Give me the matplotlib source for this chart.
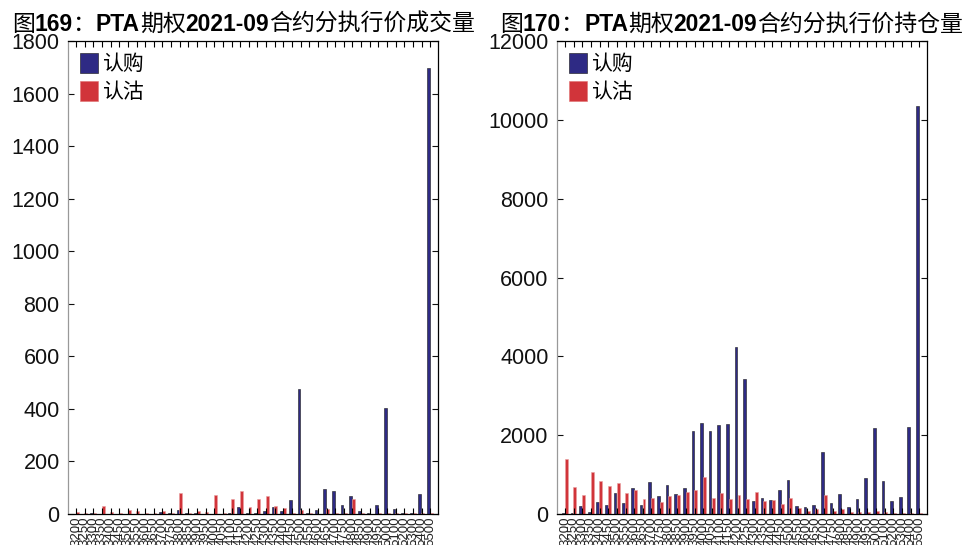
import matplotlib
matplotlib.use("Agg")
import matplotlib.pyplot as plt
import numpy as np

# Données : prix d'exercice et volumes / positions
strikes = ['3200', '3250', '3300', '3350', '3400', '3450', '3500', '3550', '3600', '3650',
           '3700', '3750', '3800', '3850', '3900', '3950', '4000', '4050', '4100', '4150',
           '4200', '4250', '4300', '4350', '4400', '4450', '4500', '4550', '4600', '4650',
           '4700', '4750', '4800', '4850', '4900', '4950', '5000', '5100', '5200', '5300',
           '5400', '5500']

vol_call = [0, 0, 2, 0, 0, 0, 0, 0, 0, 0, 8, 5, 14, 3, 2, 0, 0, 0, 4, 28,
            3, 2, 10, 28, 10, 52, 475, 5, 15, 95, 86, 33, 70, 10, 5, 33, 403, 18, 4, 4,
            77, 1697]
vol_put = [9, 3, 3, 30, 8, 2, 15, 13, 3, 3, 10, 2, 80, 5, 13, 6, 71, 5, 57, 86,
           25, 56, 68, 30, 24, 4, 15, 2, 0, 18, 3, 2, 56, 2, 0, 2, 2, 3, 2, 2,
           2, 3]

oi_call = [20, 35, 211, 60, 313, 220, 524, 279, 660, 228, 812, 448, 744, 516, 660, 2114,
           2300, 2114, 2258, 2283, 4236, 3425, 321, 414, 364, 609, 870, 211, 178, 237,
           1581, 271, 499, 169, 380, 921, 2173, 845, 321, 423, 2198, 10350]
oi_put = [1404, 685, 490, 1065, 845, 702, 778, 541, 617, 372, 414, 304, 457, 482, 550, 617,
          939, 398, 524, 372, 478, 380, 558, 338, 347, 262, 414, 144, 76, 135,
          490, 85, 118, 51, 42, 59, 85, 59, 25, 25, 25, 34]

labels = ['认购', '认沽']
c_call = '#2E2A84'
c_put = '#D1343A'

fam = ['Liberation Sans', 'Noto Sans CJK SC', 'DejaVu Sans']
plt.rcParams['font.family'] = fam

fig = plt.figure(figsize=(9.64, 5.45), dpi=100)
ax1 = fig.add_axes([68/964, 31/545, 370/964, 473/545])
ax2 = fig.add_axes([557/964, 31/545, 370/964, 473/545])

x = np.arange(len(strikes))


def panneau(ax, calls, puts, ymax, ystep):
    ax.bar(x - 0.36, calls, width=0.31, align='edge', color=c_call,
           edgecolor='#1a1a1a', linewidth=0.4, label=labels[0])
    ax.bar(x - 0.03, puts, width=0.34, align='edge', color=c_put,
           edgecolor='#E9A0A0', linewidth=0.4, label=labels[1])
    ax.set_xlim(-0.93, 41.9)
    ax.set_ylim(0, ymax)
    ax.set_xticks(x)
    ax.set_xticklabels(strikes, rotation=90, fontsize=9.5, color='#222222')
    ax.set_yticks(np.arange(0, ymax + 1, ystep))
    ax.tick_params(axis='y', labelsize=15.5, direction='in', length=4, pad=6,
                   right=True, colors='#111111')
    ax.tick_params(axis='x', direction='in', length=4, pad=2, top=True)
    for s in ['top', 'right', 'bottom']:
        ax.spines[s].set_color('black')
        ax.spines[s].set_linewidth(0.9)
    ax.spines['left'].set_color('#999999')
    ax.spines['left'].set_linewidth(0.9)
    leg = ax.legend(loc='upper left', bbox_to_anchor=(12/370, 1 - 12/473), frameon=False,
                    fontsize=15, handlelength=0.85, handleheight=1.1, handletextpad=0.2,
                    labelspacing=0.3, borderpad=0, borderaxespad=0,
                    prop={'family': ['Noto Sans CJK SC'], 'size': 15})
    leg.legend_handles[0].set_edgecolor('#111111')
    leg.legend_handles[1].set_edgecolor('#E07070')


panneau(ax1, vol_call, vol_put, 1800, 200)
panneau(ax2, oi_call, oi_put, 12000, 2000)


# Titres : parties latines en gras, chinois en normal
def titre(x0, y0, parts, size=16.5):
    renderer = fig.canvas.get_renderer()
    xx = x0
    for s, gras in parts:
        if gras:
            t = fig.text(xx, y0, s, fontsize=size, fontweight='bold',
                         family=['Liberation Sans'], va='baseline', ha='left')
        else:
            t = fig.text(xx, y0, s, fontsize=size, family=['Noto Sans CJK SC'],
                         va='baseline', ha='left')
        bb = t.get_window_extent(renderer)
        xx = fig.transFigure.inverted().transform((bb.x1, bb.y0))[0]


titre(12/964, 1 - 31/545, [('图', False), ('169', True), ('：', False), ('PTA', True),
                           ('期权', False), ('2021-09', True), ('合约分执行价成交量', False)])
titre(500/964, 1 - 31/545, [('图', False), ('170', True), ('：', False), ('PTA', True),
                            ('期权', False), ('2021-09', True), ('合约分执行价持仓量', False)])

fig.savefig('out.png', dpi=100)
